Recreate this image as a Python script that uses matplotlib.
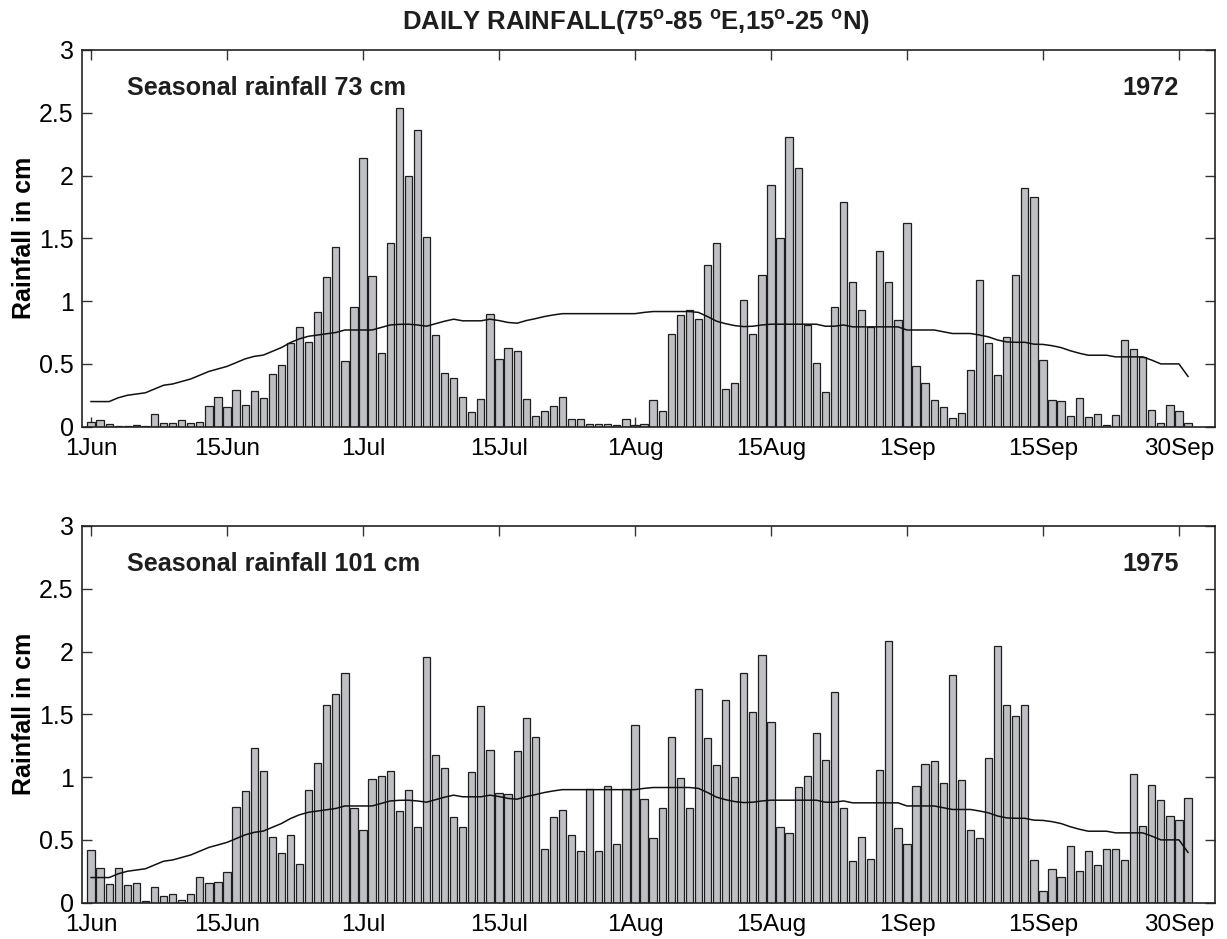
#!/usr/bin/env python3
"""
Daily rainfall over central India (75-85E, 15-25N), June-September,
for a weak (1972) and a strong (1975) monsoon season, with the daily normal.
"""
import numpy as np
import matplotlib
matplotlib.use('Agg')
import matplotlib.pyplot as plt

plt.rcParams['font.family'] = ['Liberation Sans', 'DejaVu Sans']

# Daily rainfall (cm), 1 Jun .. 30 Sep
rain_1972 = [
    0.04, 0.05, 0.02, 0.005, 0.003, 0.01, 0.005, 0.10, 0.03, 0.027,
    0.053, 0.03, 0.04, 0.165, 0.24, 0.154, 0.29, 0.175, 0.284, 0.23,
    0.42, 0.49, 0.67, 0.79, 0.675, 0.91, 1.19, 1.43, 0.52, 0.95,
    2.14, 1.20, 0.585, 1.465, 2.54, 2.0, 2.366, 1.51, 0.728, 0.428,
    0.385, 0.234, 0.117, 0.218, 0.90, 0.54, 0.625, 0.603, 0.218, 0.082,
    0.122, 0.167, 0.234, 0.064, 0.058, 0.024, 0.021, 0.019, 0.011, 0.058,
    0.011, 0.02, 0.21, 0.125, 0.736, 0.89, 0.928, 0.859, 1.287, 1.462,
    0.298, 0.346, 1.007, 0.736, 1.204, 1.927, 1.502, 2.307, 2.06, 0.808,
    0.505, 0.276, 0.957, 1.786, 1.151, 0.93, 0.797, 1.40, 1.156, 0.853,
    1.624, 0.481, 0.351, 0.215, 0.16, 0.069, 0.112, 0.455, 1.167, 0.665,
    0.409, 0.715, 1.207, 1.903, 1.826, 0.529, 0.215, 0.202, 0.082, 0.229,
    0.074, 0.104, 0.013, 0.09, 0.688, 0.619, 0.556, 0.13, 0.032, 0.175,
    0.128, 0.032,
]

rain_1975 = [
    0.423, 0.274, 0.146, 0.274, 0.141, 0.157, 0.016, 0.128, 0.053, 0.072,
    0.024, 0.066, 0.202, 0.16, 0.165, 0.247, 0.758, 0.893, 1.231, 1.05,
    0.521, 0.393, 0.54, 0.311, 0.896, 1.114, 1.574, 1.659, 1.829, 0.75,
    0.582, 0.984, 1.007, 1.05, 0.731, 0.896, 0.606, 1.959, 1.178, 1.071,
    0.686, 0.60, 1.039, 1.566, 1.215, 0.875, 0.864, 1.207, 1.467, 1.318,
    0.428, 0.683, 0.739, 0.54, 0.409, 0.909, 0.409, 0.93, 0.468, 0.909,
    1.414, 0.827, 0.516, 0.75, 1.318, 0.991, 0.752, 1.70, 1.308, 1.098,
    1.613, 0.999, 1.829, 1.515, 1.97, 1.438, 0.60, 0.558, 0.922, 1.007,
    1.353, 1.14, 1.675, 0.755, 0.335, 0.521, 0.346, 1.055, 2.087, 0.593,
    0.468, 0.928, 1.103, 1.13, 0.952, 1.813, 0.976, 0.577, 0.518, 1.154,
    2.041, 1.571, 1.483, 1.571, 0.338, 0.09, 0.266, 0.202, 0.449, 0.25,
    0.412, 0.298, 0.428, 0.428, 0.338, 1.023, 0.611, 0.933, 0.819, 0.694,
    0.662, 0.832,
]

# Daily normal rainfall (cm)
normal = [
    0.20, 0.20, 0.20, 0.23, 0.25, 0.26, 0.27, 0.30, 0.33, 0.34,
    0.36, 0.38, 0.41, 0.44, 0.46, 0.48, 0.51, 0.54, 0.56, 0.57,
    0.60, 0.63, 0.67, 0.70, 0.72, 0.73, 0.74, 0.75, 0.77, 0.77,
    0.77, 0.77, 0.79, 0.81, 0.815, 0.816, 0.81, 0.80, 0.82, 0.84,
    0.856, 0.843, 0.843, 0.843, 0.856, 0.845, 0.83, 0.824, 0.845, 0.86,
    0.877, 0.89, 0.90, 0.90, 0.90, 0.90, 0.90, 0.90, 0.90, 0.90,
    0.90, 0.91, 0.917, 0.917, 0.917, 0.917, 0.917, 0.91, 0.877, 0.84,
    0.82, 0.805, 0.797, 0.80, 0.81, 0.816, 0.816, 0.816, 0.816, 0.816,
    0.816, 0.80, 0.80, 0.81, 0.795, 0.795, 0.795, 0.795, 0.795, 0.795,
    0.77, 0.77, 0.77, 0.77, 0.756, 0.742, 0.742, 0.742, 0.73, 0.715,
    0.69, 0.675, 0.672, 0.672, 0.657, 0.655, 0.645, 0.63, 0.605, 0.585,
    0.569, 0.569, 0.569, 0.556, 0.556, 0.556, 0.556, 0.53, 0.50, 0.50,
    0.50, 0.40,
]

years = ['1972', '1975']
seasonal_totals = [73, 101]
tick_days = [1, 16, 31, 46, 61, 76, 91, 106, 121]
tick_labels = ['1Jun', '15Jun', '1Jul', '15Jul', '1Aug', '15Aug', '1Sep', '15Sep', '30Sep']
ytick_vals = [0, 0.5, 1, 1.5, 2, 2.5, 3]
ytick_labels = ['0', '0.5', '1', '1.5', '2', '2.5', '3']

days = np.arange(1, len(normal) + 1)

fig = plt.figure(figsize=(12.27, 9.39), dpi=100, facecolor='white')
ax_top = fig.add_axes([0.0668, 0.5456, 0.9236, 0.4012])
ax_bot = fig.add_axes([0.0668, 0.0387, 0.9236, 0.4012])

for ax, rain, year, total in zip([ax_top, ax_bot], [rain_1972, rain_1975], years, seasonal_totals):
    ax.bar(days, rain, width=0.8, color='#bfc0c4', edgecolor='#1e1e1e', linewidth=0.9, zorder=2)
    ax.plot(days, normal, color='#111111', linewidth=1.1, zorder=3)

    ax.set_xlim(0, 125)
    ax.set_ylim(0, 3)
    ax.set_xticks(tick_days)
    ax.set_xticklabels(tick_labels)
    ax.set_yticks(ytick_vals)
    ax.set_yticklabels(ytick_labels)
    ax.tick_params(direction='in', top=True, right=True, length=7.5, width=1.0,
                   color='#333333')
    ax.tick_params(axis='x', pad=8.5, labelsize=17.5)
    ax.tick_params(axis='y', pad=6, labelsize=18)
    for sp in ax.spines.values():
        sp.set_linewidth(1.2)
        sp.set_color('#222222')

    ax.set_ylabel('Rainfall in cm', fontsize=18, fontweight='bold')
    ax.yaxis.set_label_coords(-0.0405, 0.5)
    ax.text(5, 2.7, f'Seasonal rainfall {total} cm', fontsize=18.2, fontweight='bold',
            ha='left', va='center', color='#1e1e1e')
    ax.text(121, 2.7, year, fontsize=18.2, fontweight='bold',
            ha='right', va='center', color='#1e1e1e')

fig.text(0.518, 0.9766,
         r'DAILY RAINFALL(75$^{\mathregular{o}}$-85 $^{\mathregular{o}}$E,15$^{\mathregular{o}}$-25 $^{\mathregular{o}}$N)',
         fontsize=18.5, fontweight='bold', ha='center', va='center', color='#1e1e1e')

fig.savefig('out.png', dpi=100, facecolor='white')
